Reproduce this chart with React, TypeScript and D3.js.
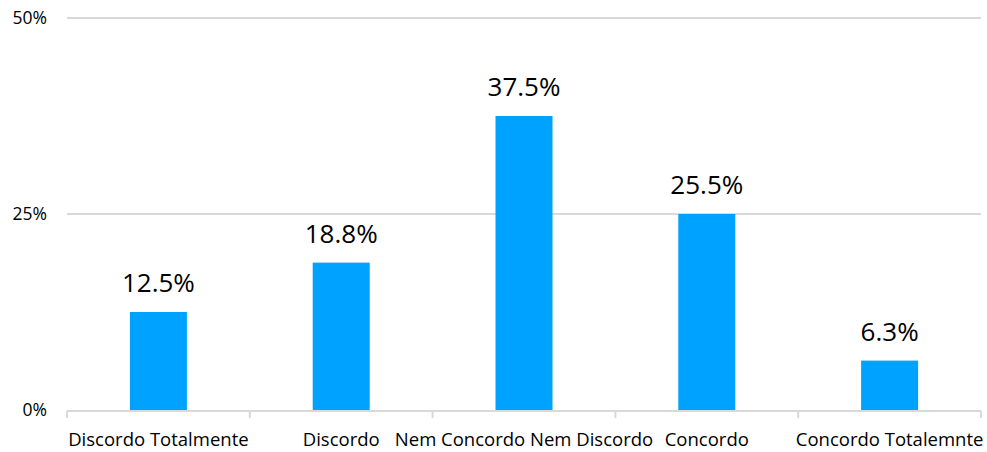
import React from "react";
import * as d3 from "d3";

const categories = ["Discordo Totalmente", "Discordo", "Nem Concordo Nem Discordo", "Concordo", "Concordo Totalemnte"];
const values = [12.5, 18.8, 37.5, 25.0, 6.3];
const valueLabels = ["12.5%", "18.8%", "37.5%", "25.5%", "6.3%"];
const yTicks = [0, 25, 50];

export default function App() {
  const W = 987, H = 452;
  const left = 67, right = 981, top = 18, bottom = 410;
  const x = d3.scaleBand<string>().domain(categories).range([left, right]).paddingInner(0).paddingOuter(0);
  const y = d3.scaleLinear().domain([0, 50]).range([bottom, top]);
  const barW = 57;
  const font = "'Open Sans', sans-serif";
  const bounds = [...categories.map((c) => x(c)!), right];
  return (
    <svg width={W} height={H} style={{ position: "absolute", left: 0, top: 0 }} fontFamily={font}>
      <rect width={W} height={H} fill="#fff" />
      {yTicks.map((t) => (
        <g key={t}>
          {t > 0 && <line x1={left} x2={right} y1={y(t)} y2={y(t)} stroke="#d9d9d9" strokeWidth={2} />}
          <text x={47} y={y(t)} dy="0.35em" textAnchor="end" fontSize={17.5} fill="#000">{t}%</text>
        </g>
      ))}
      {categories.map((c, i) => {
        const cx = x(c)! + x.bandwidth() / 2;
        return (
          <g key={c}>
            <rect x={cx - barW / 2} y={y(values[i])} width={barW} height={y(0) - y(values[i])} fill="#00a2ff" />
            <text x={cx} y={y(values[i]) - 20} textAnchor="middle" fontSize={26} fill="#000">{valueLabels[i]}</text>
            <text x={cx} y={446} textAnchor="middle" fontSize={18.5} fill="#000">{c}</text>
          </g>
        );
      })}
      <line x1={left} x2={right} y1={bottom + 1} y2={bottom + 1} stroke="#d9d9d9" strokeWidth={2} />
      {bounds.map((b, i) => (
        <line key={i} x1={b} x2={b} y1={bottom + 1} y2={bottom + 8} stroke="#d9d9d9" strokeWidth={2} />
      ))}
    </svg>
  );
}
